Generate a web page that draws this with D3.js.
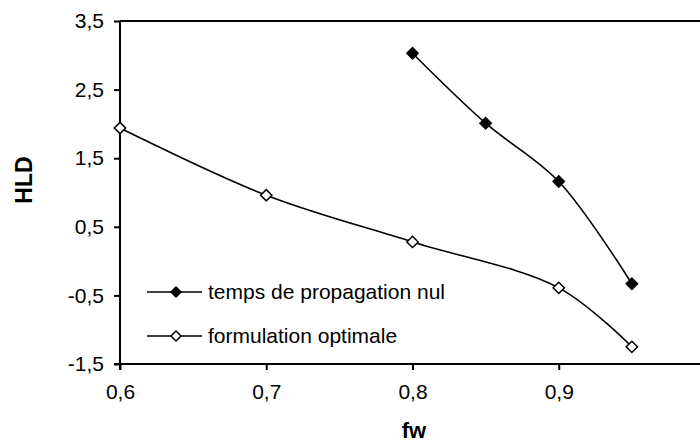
<!DOCTYPE html>
<html>
<head>
<meta charset="utf-8">
<script src="https://cdn.jsdelivr.net/npm/d3@7"></script>
<style>
  html, body { margin: 0; padding: 0; background: #fff; }
  svg { display: block; font-family: "Liberation Sans", Arial, sans-serif; }
</style>
</head>
<body>
<svg id="chart" width="700" height="443"></svg>
<script>
// ---- data ----
const seriesNames = ["temps de propagation nul", "formulation optimale"];
const fwNul = [0.80, 0.85, 0.90, 0.95];
const hldNul = [3.03, 2.01, 1.16, -0.33];
const fwOpt = [0.60, 0.70, 0.80, 0.90, 0.95];
const hldOpt = [1.94, 0.96, 0.28, -0.39, -1.25];
const xTicks = [0.6, 0.7, 0.8, 0.9];
const yTicks = [-1.5, -0.5, 0.5, 1.5, 2.5, 3.5];

const svg = d3.select("#chart");
const mLeft = 120, mRight = 705, mTop = 21, mBottom = 364;

const x = d3.scaleLinear().domain([0.6, 1.0]).range([mLeft, mRight]);
const y = d3.scaleLinear().domain([-1.5, 3.5]).range([mBottom, mTop]);
const fmt = d => d3.format(".1f")(d).replace(".", ",").replace("\u2212", "-");

// plot border (top + right)
svg.append("path")
  .attr("d", `M${mLeft},${mTop}H${mRight}V${mBottom}`)
  .attr("fill", "none").attr("stroke", "#000").attr("stroke-width", 2);

// axes
const yAxis = svg.append("g").attr("transform", `translate(${mLeft},0)`)
  .call(d3.axisLeft(y).tickValues(yTicks).tickFormat(fmt).tickSize(6).tickPadding(10));
const xAxis = svg.append("g").attr("transform", `translate(0,${mBottom})`)
  .call(d3.axisBottom(x).tickValues(xTicks).tickFormat(fmt).tickSize(6).tickPadding(14));
[xAxis, yAxis].forEach(g => {
  g.select(".domain").attr("stroke", "#000").attr("stroke-width", 2);
  g.selectAll(".tick line").attr("stroke", "#000").attr("stroke-width", 2);
  g.selectAll(".tick text").attr("fill", "#000")
    .style("font-family", '"Liberation Sans", Arial, sans-serif').style("font-size", "21px");
});
xAxis.select(".domain").attr("d", `M${mLeft},6V0H${mRight}`);
yAxis.select(".domain").attr("d", `M-6,${mBottom}H0V${mTop}`);

// axis titles
svg.append("text").attr("x", 414).attr("y", 438).attr("text-anchor", "middle")
  .style("font-size", "22px").style("font-weight", "bold").text("fw");
svg.append("text").attr("transform", "translate(32,180) rotate(-90)").attr("text-anchor", "middle")
  .style("font-size", "23px").style("font-weight", "bold").text("HLD");

// lines
const line = d3.line().x(d => x(d[0])).y(d => y(d[1])).curve(d3.curveCatmullRom.alpha(0.5));
const dNul = fwNul.map((v, i) => [v, hldNul[i]]);
const dOpt = fwOpt.map((v, i) => [v, hldOpt[i]]);

svg.append("path").datum(dOpt).attr("d", line).attr("fill", "none").attr("stroke", "#000").attr("stroke-width", 1.6);
svg.append("path").datum(dNul).attr("d", line).attr("fill", "none").attr("stroke", "#000").attr("stroke-width", 1.6);

const diamond = d3.symbol().type(d3.symbolSquare).size(64);
function markers(data, fill) {
  svg.append("g").selectAll("path").data(data).join("path")
    .attr("d", diamond)
    .attr("transform", d => `translate(${x(d[0])},${y(d[1])}) rotate(45)`)
    .attr("fill", fill).attr("stroke", "#000").attr("stroke-width", 1.5);
}
markers(dOpt, "#fff");
markers(dNul, "#000");

// legend
const legendRows = [{name: seriesNames[0], fill: "#000", y: 292}, {name: seriesNames[1], fill: "#fff", y: 336}];
const lg = svg.append("g");
legendRows.forEach(r => {
  lg.append("line").attr("x1", 147).attr("x2", 202).attr("y1", r.y).attr("y2", r.y)
    .attr("stroke", "#000").attr("stroke-width", 1.6);
  lg.append("path").attr("d", d3.symbol().type(d3.symbolSquare).size(50))
    .attr("transform", `translate(176,${r.y}) rotate(45)`)
    .attr("fill", r.fill).attr("stroke", "#000").attr("stroke-width", 1.5);
  lg.append("text").attr("x", 208).attr("y", r.y).attr("dy", "0.35em")
    .style("font-size", "21px").text(r.name);
});
</script>
</body>
</html>
